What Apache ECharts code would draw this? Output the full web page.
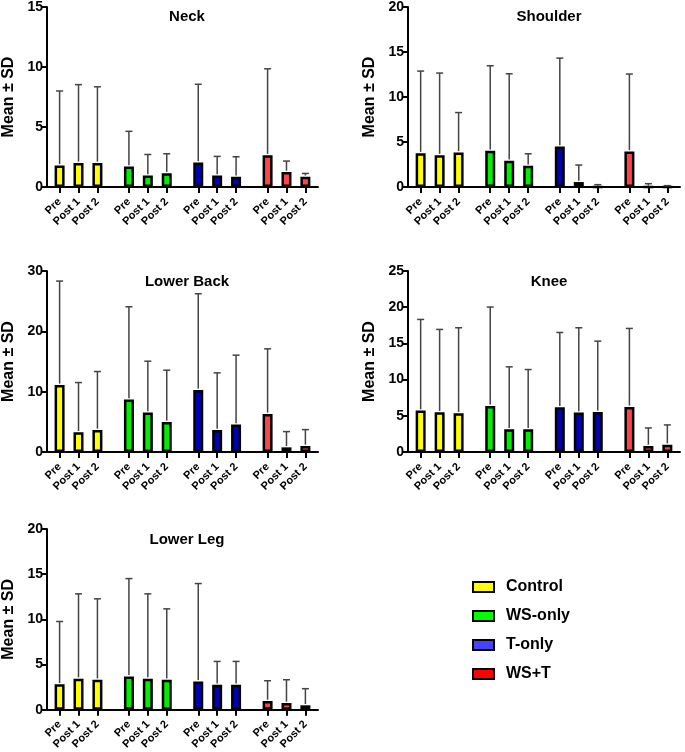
<!DOCTYPE html>
<html><head><meta charset="utf-8">
<script src="https://cdn.jsdelivr.net/npm/echarts@6/dist/echarts.min.js"></script>
<style>html,body{margin:0;padding:0;background:#fff}#c{width:685px;height:752px}</style>
</head><body><div id="c"></div>
<script>
const groups = ['Control', 'WS-only', 'T-only', 'WS+T'];
const timepoints = ['Pre', 'Post 1', 'Post 2'];
const panelTitles = ['Neck', 'Shoulder', 'Lower Back', 'Knee', 'Lower Leg'];
const yMax = [15, 20, 30, 25, 20];
const yStep = [5, 5, 10, 5, 5];

// means and SDs, order: Control Pre/Post1/Post2, WS-only ..., T-only ..., WS+T ...
const neckMean = [1.8, 2.0, 2.0, 1.7, 0.95, 1.15, 2.05, 0.95, 0.85, 2.65, 1.25, 0.85];
const neckSD = [6.2, 6.53, 6.35, 2.94, 1.76, 1.62, 6.51, 1.6, 1.67, 7.2, 0.91, 0.28];
const shoulderMean = [3.76, 3.54, 3.84, 4.02, 2.92, 2.36, 4.5, 0.55, 0, 3.95, 0, 0];
const shoulderSD = [9.12, 9.12, 4.43, 9.45, 9.66, 1.33, 9.82, 1.89, 0.26, 8.6, 0.37, 0.15];
const lowerBackMean = [11.12, 3.26, 3.65, 8.69, 6.53, 4.98, 10.29, 3.65, 4.54, 6.31, 0.77, 1.0];
const lowerBackSD = [17.21, 8.25, 9.69, 15.38, 8.52, 8.58, 15.94, 9.47, 11.51, 10.79, 2.61, 2.71];
const kneeMean = [5.72, 5.49, 5.35, 6.37, 3.14, 3.14, 6.18, 5.44, 5.54, 6.23, 0.83, 1.01];
const kneeSD = [12.59, 11.44, 11.81, 13.65, 8.62, 8.25, 10.33, 11.72, 9.77, 10.84, 2.49, 2.73];
const lowerLegMean = [2.8, 3.43, 3.31, 3.68, 3.43, 3.31, 3.13, 2.76, 2.76, 0.96, 0.74, 0.48];
const lowerLegSD = [6.96, 9.39, 8.96, 10.83, 9.39, 7.85, 10.83, 2.58, 2.58, 2.24, 2.57, 1.84];

const means = [neckMean, shoulderMean, lowerBackMean, kneeMean, lowerLegMean];
const sds = [neckSD, shoulderSD, lowerBackSD, kneeSD, lowerLegSD];

const barColors = ['#FFFF00', '#00EE00', '#0000B4', '#FF4545'];
const legendColors = ['#FFFF00', '#00FF00', '#4444FF', '#FF0000'];
const FONT = '"Liberation Sans", Arial, sans-serif';

// Build category slots: lead blanks, bars spaced 3 slots, groups separated by 5 slots
const LEAD = 2, STEP = 3, GROUP_GAP = 5, TAIL = 2;
const cats = [];
const barIdx = []; // barIdx[g][t]
for (let i = 0; i < LEAD; i++) cats.push('');
groups.forEach((g, gi) => {
  barIdx.push([]);
  timepoints.forEach((t, ti) => {
    barIdx[gi].push(cats.length);
    cats.push(t);
    const gapSlots = (ti < timepoints.length - 1) ? STEP - 1 : (gi < groups.length - 1 ? GROUP_GAP - 1 : 0);
    for (let k = 0; k < gapSlots; k++) cats.push('');
  });
});
for (let i = 0; i < TAIL; i++) cats.push('');
const isBar = new Set(barIdx.flat());

const gridPos = [
  { left: 46, top: 6 }, { left: 408, top: 6 },
  { left: 46, top: 271 }, { left: 408, top: 271 },
  { left: 46, top: 529 }
];
const GW = 272, GH = 181;

const grids = [], xAxes = [], yAxes = [], series = [], titles = [];
panelTitles.forEach((name, p) => {
  const gp = gridPos[p];
  grids.push({ left: gp.left, top: gp.top, width: GW, height: GH });
  xAxes.push({
    type: 'category', gridIndex: p, data: cats, boundaryGap: false,
    axisLine: { lineStyle: { color: '#000', width: 2 } },
    axisTick: { interval: (i) => isBar.has(i), length: 6, lineStyle: { color: '#000', width: 2 } },
    axisLabel: { interval: (i) => isBar.has(i), rotate: 45, fontSize: 11, fontWeight: 'bold', color: '#000', margin: 13, fontFamily: FONT },
    splitLine: { show: false }
  });
  yAxes.push({
    type: 'value', gridIndex: p, min: 0, max: yMax[p], interval: yStep[p],
    name: 'Mean ± SD', nameLocation: 'middle', nameGap: 30,
    nameTextStyle: { fontSize: 16, fontWeight: 'bold', color: '#000', fontFamily: FONT },
    axisLine: { show: true, lineStyle: { color: '#000', width: 2 } },
    axisTick: { show: true, length: 5, lineStyle: { color: '#000', width: 2 } },
    axisLabel: { fontSize: 14, fontWeight: 'bold', color: '#000', margin: 4, fontFamily: FONT },
    splitLine: { show: false }
  });
  const u = GW / (cats.length - 1);
  const midIdx = (barIdx[0][0] + barIdx[3][2]) / 2;
  titles.push({
    text: name, left: gp.left + midIdx * u, top: gp.top - 2, textAlign: 'center',
    textStyle: { fontSize: 15, fontWeight: 'bold', color: '#000', fontFamily: FONT }
  });
  groups.forEach((g, gi) => {
    const data = cats.map(() => '-');
    timepoints.forEach((t, ti) => { data[barIdx[gi][ti]] = means[p][gi * 3 + ti]; });
    series.push({
      type: 'bar', name: g, xAxisIndex: p, yAxisIndex: p, data,
      barWidth: 10, barGap: '-100%',
      itemStyle: { color: barColors[gi], borderColor: '#000', borderWidth: 2.5 },
      silent: true, z: 2
    });
  });
  const eb = [];
  groups.forEach((g, gi) => timepoints.forEach((t, ti) => {
    eb.push([barIdx[gi][ti], means[p][gi * 3 + ti], sds[p][gi * 3 + ti]]);
  }));
  series.push({
    type: 'custom', xAxisIndex: p, yAxisIndex: p, data: eb, encode: { x: 0, y: 1 }, z: 3, silent: true,
    renderItem: (params, api) => {
      const x = api.value(0), m = api.value(1), s = api.value(2);
      const p0 = api.coord([x, m]);
      const p1 = api.coord([x, m + s]);
      const st = { stroke: '#444', lineWidth: 1.5 };
      return {
        type: 'group', children: [
          { type: 'line', shape: { x1: p0[0], y1: p0[1] - 1.3, x2: p1[0], y2: p1[1] }, style: st },
          { type: 'line', shape: { x1: p1[0] - 3.5, y1: p1[1], x2: p1[0] + 3.5, y2: p1[1] }, style: st }
        ]
      };
    }
  });
});

const chart = echarts.init(document.getElementById('c'), null, { renderer: 'canvas' });
chart.setOption({
  animation: false,
  backgroundColor: '#fff',
  title: titles,
  grid: grids, xAxis: xAxes, yAxis: yAxes, series,
  legend: {
    orient: 'vertical', left: 467, top: 573, itemWidth: 21, itemHeight: 10, itemGap: 11,
    icon: 'rect', selectedMode: false,
    textStyle: { fontSize: 16, fontWeight: 'bold', color: '#000', fontFamily: FONT, padding: [0, 0, 0, 7], lineHeight: 18 },
    data: groups.map((g, gi) => ({ name: g, itemStyle: { color: legendColors[gi], borderColor: '#000', borderWidth: 2 } }))
  }
});
</script></body></html>
